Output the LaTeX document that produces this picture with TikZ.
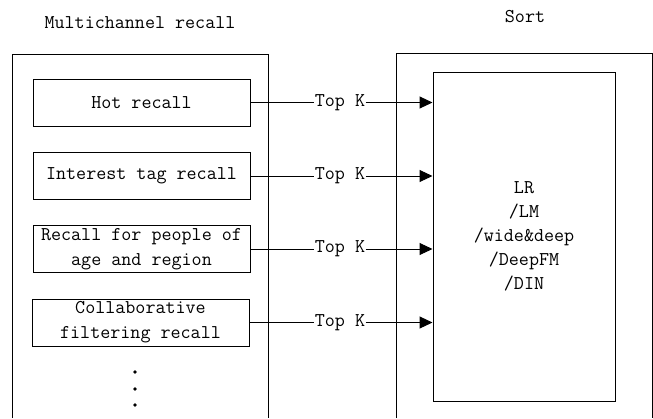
\documentclass[tikz,border=0pt]{standalone}
\usetikzlibrary{arrows.meta}
\begin{document}
\begin{tikzpicture}[x=1pt,y=-1pt, line width=1pt,
  every node/.style={font=\fontsize{19.5}{25}\selectfont\ttfamily, inner sep=0pt},
  recbox/.style={draw, minimum width=217pt, minimum height=47pt, align=center},
  topk/.style={},
  arr/.style={-{Triangle[length=13pt,width=12pt]}}]
\useasboundingbox (0,0) rectangle (653,418);
% outer frames (cut at bottom)
\draw (12,418) -- (12,54) -- (268,54) -- (268,418);
\draw (396,418) -- (396,53) -- (652,53) -- (652,418);
% titles
\node (t1) at (140,23) {Multichannel recall};
\node (t2) at (525,17) {Sort};
% recall boxes
\node[recbox] (r1) at (141.5,102.5) {Hot recall};
\node[recbox] (r2) at (141.5,176) {Interest tag recall};
\node[recbox] (r3) at (141.5,249) {Recall for people of\\age and region};
\node[recbox] (r4) at (140.5,322.5) {Collaborative\\filtering recall};
% sort model box
\node[draw, minimum width=182pt, minimum height=329pt, align=center,
  font=\fontsize{19.5}{24}\selectfont\ttfamily] (m) at (524,236.5)
  {LR\\/LM\\/wide\&deep\\/DeepFM\\/DIN};
% Top K labels
\node[topk] (k1) at (340,102.5) {Top K};
\node[topk] (k2) at (340,176) {Top K};
\node[topk] (k3) at (340,249) {Top K};
\node[topk] (k4) at (340,322.5) {Top K};
% connectors
\foreach \i in {1,2,3,4} {
  \draw (r\i.east) -- (k\i.west);
  \draw[arr] (k\i.east) -- (k\i.east -| m.west);
}
% dots
\fill (135,372) circle (1.8);
\fill (135,389) circle (1.8);
\fill (135,405) circle (1.8);
\end{tikzpicture}
\end{document}
